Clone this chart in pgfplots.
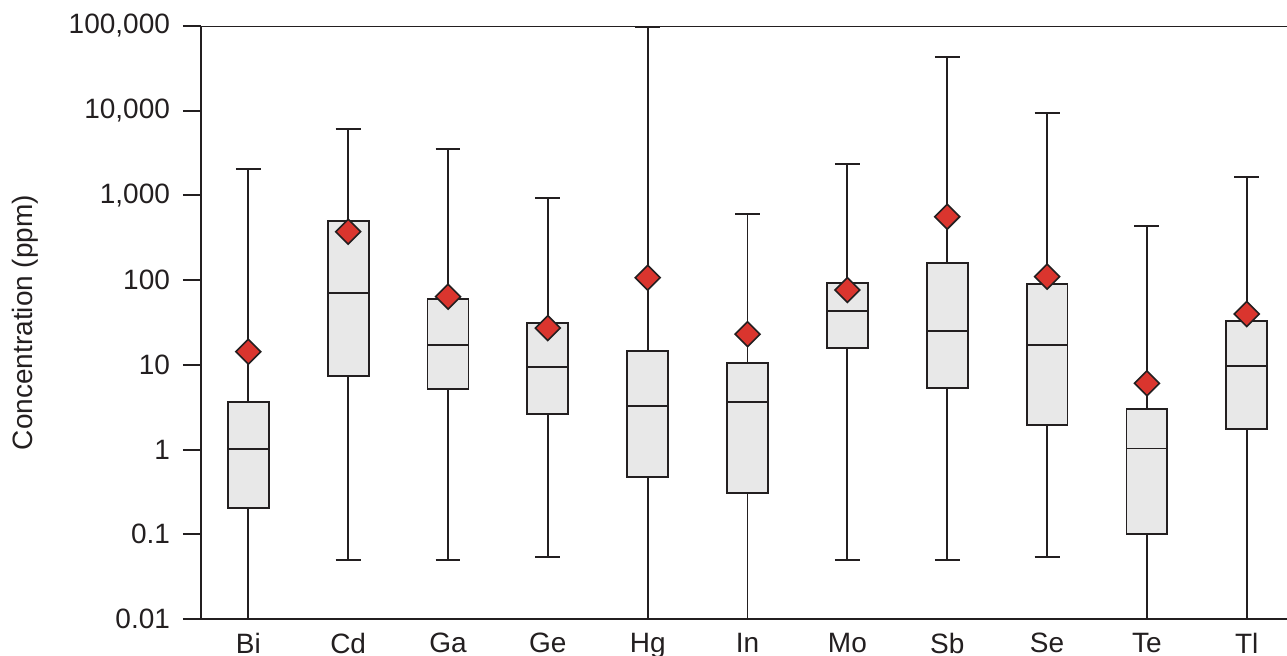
\documentclass[border=0pt]{standalone}
\usepackage{pgfplots}
\pgfplotsset{compat=1.18}
\usepackage{fontspec}
\setmainfont{Liberation Sans}
\definecolor{linecol}{HTML}{231F20}
\definecolor{boxfill}{HTML}{E8E8E8}
\definecolor{dred}{HTML}{DA352E}

% #1 position, #2 lower whisker, #3 lower quartile, #4 median, #5 upper quartile, #6 upper whisker
\newcommand{\boxitem}[6]{%
  \pgfmathsetmacro\bxL{#1-0.205}\pgfmathsetmacro\bxR{#1+0.205}%
  \pgfmathsetmacro\cpL{#1-0.125}\pgfmathsetmacro\cpR{#1+0.125}%
  \edef\tmpplots{%
  \noexpand\addplot[draw=linecol, line width=0.95pt] coordinates {(#1,#2) (#1,#6)};
  \noexpand\addplot[draw=linecol, line width=0.95pt] coordinates {(\cpL,#6) (\cpR,#6)};
  \noexpand\addplot[draw=linecol, line width=0.95pt] coordinates {(\cpL,#2) (\cpR,#2)};
  \noexpand\addplot[draw=linecol, fill=boxfill, line width=0.95pt] coordinates {(\bxL,#3) (\bxR,#3) (\bxR,#5) (\bxL,#5)} -- cycle;
  \noexpand\addplot[draw=linecol, line width=0.95pt] coordinates {(\bxL,#4) (\bxR,#4)};
  }\tmpplots}

\begin{document}
\begin{tikzpicture}
\begin{axis}[
  at={(100.5pt,18pt)}, anchor=south west,
  scale only axis, width=543pt, height=296.5pt,
  xmin=-0.474, xmax=10.403,
  ymode=log, ymin=0.01, ymax=100000,
  axis x line=bottom, axis y line=left,
  axis line style={-, line width=1pt, draw=linecol},
  xtick={0,1,2,3,4,5,6,7,8,9,10},
  xticklabels={Bi,Cd,Ga,Ge,Hg,In,Mo,Sb,Se,Te,Tl},
  xtick style={draw=none},
  ytick={0.01,0.1,1,10,100,1000,10000,100000},
  yticklabels={0.01,0.1,1,10,100,{1,000},{10,000},{100,000}},
  yminorticks=false,
  tick align=outside, major tick length=9pt,
  ytick style={line width=1pt, draw=linecol},
  ticklabel style={font=\fontsize{14}{16}\selectfont, text=linecol},
  xticklabel style={yshift=5.5pt},
  yticklabel style={xshift=-3pt},
  ylabel={Concentration (ppm)},
  ylabel style={at={(axis description cs:-0.162,0.5)}, anchor=center, font=\fontsize{14}{16}\selectfont, text=linecol},
]
\boxitem{0}{0.01}{0.204}{1.02}{3.61}{2040}
\boxitem{1}{0.05}{7.45}{71}{495}{6085}
\boxitem{2}{0.05}{5.19}{17.2}{59.4}{3535}
\boxitem{3}{0.054}{2.63}{9.44}{31.2}{933}
\boxitem{4}{0.01}{0.479}{3.27}{14.7}{96000}
\boxitem{5}{0.01}{0.307}{3.62}{10.4}{604}
\boxitem{6}{0.05}{15.7}{43.3}{92.6}{2350}
\boxitem{7}{0.05}{5.38}{25.1}{158}{43450}
\boxitem{8}{0.054}{1.95}{17.2}{90.8}{9480}
\boxitem{9}{0.01}{0.1}{1.03}{3.04}{432}
\boxitem{10}{0.01}{1.73}{9.7}{32.7}{1665}
\addplot[only marks, mark=square*, mark size=4.4pt,
  mark options={rotate=45, fill=dred, draw=linecol, line width=0.8pt}]
  coordinates {(0,14.3) (1,373) (2,63.8) (3,27.2) (4,107) (5,23.0) (6,76.5) (7,561) (8,110) (9,6.06) (10,39.9)};
\draw[line width=1pt, linecol] (rel axis cs:0,1) -- (rel axis cs:1,1);
\end{axis}
\pgfresetboundingbox
\path[use as bounding box] (0,0) rectangle (643.5pt,327.5pt);
\end{tikzpicture}
\end{document}
